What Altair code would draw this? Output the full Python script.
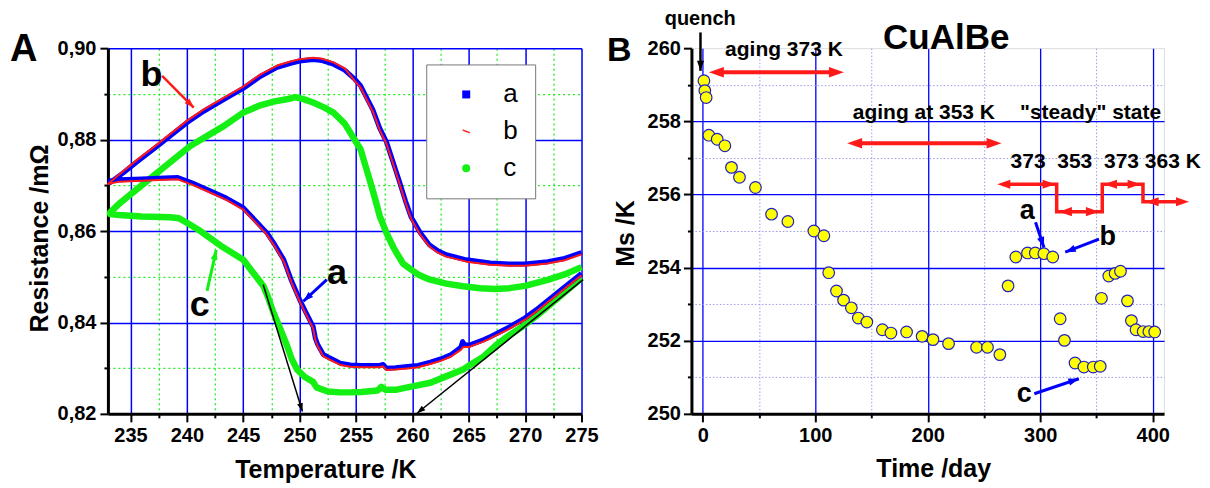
import altair as alt
import pandas as pd

FONT = "Liberation Sans"
BLUE = "#0000ff"
RED = "#ff1a1a"
GREEN = "#14f014"

# ---------------- Panel A : resistance loops ----------------
# lower branch (275 K -> 233 K) then upper branch (233 K -> 275 K)
a_T_low = [275.0, 273.0, 271.0, 270.0, 268.6, 267.0, 266.3, 265.0, 264.6, 264.45, 264.3, 263.4, 262.5, 261.6, 260.5,
           259.8, 258.5, 257.7, 257.4, 257.1, 255.5, 254.5, 253.6, 252.7, 252.1, 251.6, 251.4, 251.2, 250.6, 250.0,
           249.3, 248.6, 247.8, 247.1, 246.0, 245.0, 243.5, 241.8, 240.5, 239.2, 238.0, 236.0, 234.0, 233.2]
a_R_low = [0.8507, 0.8468, 0.8428, 0.8410, 0.8390, 0.8370, 0.8362, 0.8350, 0.8352, 0.8358, 0.8346, 0.8329, 0.8320,
           0.8313, 0.8306, 0.8304, 0.8301, 0.8300, 0.8308, 0.8306, 0.8306, 0.8307, 0.8311, 0.8322, 0.8330, 0.8352,
           0.8365, 0.8391, 0.8420, 0.8450, 0.8490, 0.8537, 0.8570, 0.8596, 0.8625, 0.8651, 0.8672, 0.8691, 0.8705,
           0.8717, 0.8716, 0.8714, 0.8712, 0.8710]
a_T_up = [233.2, 234.4, 235.5, 237.4, 240.0, 241.5, 243.3, 245.0, 246.5, 248.0, 249.2, 250.0, 251.2, 252.0, 253.0,
          254.0, 254.9, 255.4, 256.5, 257.1, 257.7, 258.3, 258.8, 259.4, 259.9, 260.7, 261.5, 262.3, 263.0, 264.8,
          266.9, 268.6, 270.0, 272.0, 273.5, 275.0]
a_R_up = [0.8706, 0.8728, 0.8750, 0.8786, 0.8837, 0.8862, 0.8888, 0.8912, 0.8938, 0.8958, 0.8967, 0.8972, 0.8975,
          0.8973, 0.8965, 0.8952, 0.8932, 0.8918, 0.8865, 0.8825, 0.8795, 0.8750, 0.8712, 0.8665, 0.8630, 0.8596,
          0.8570, 0.8556, 0.8548, 0.8537, 0.8530, 0.8528, 0.8528, 0.8533, 0.8540, 0.8553]

b_T_low = [275.0, 273.0, 271.0, 270.0, 268.6, 267.0, 266.3, 265.0, 264.6, 264.45, 264.3, 263.4, 262.5, 261.6, 260.5,
           259.8, 258.5, 257.7, 257.4, 257.1, 255.5, 254.5, 253.6, 252.7, 252.1, 251.6, 251.4, 251.2, 250.6, 250.0,
           249.3, 248.6, 247.8, 247.1, 246.0, 245.0, 243.5, 241.8, 240.5, 239.2, 238.0, 236.0, 234.0, 233.0]
b_R_low = [0.8503, 0.8464, 0.8424, 0.8406, 0.8386, 0.8366, 0.8358, 0.8346, 0.8346, 0.8345, 0.8340, 0.8325, 0.8316,
           0.8309, 0.8302, 0.8300, 0.8297, 0.8296, 0.8304, 0.8302, 0.8302, 0.8303, 0.8307, 0.8318, 0.8326, 0.8348,
           0.8361, 0.8387, 0.8416, 0.8446, 0.8486, 0.8533, 0.8566, 0.8592, 0.8621, 0.8647, 0.8668, 0.8687, 0.8701,
           0.8713, 0.8712, 0.8710, 0.8708, 0.8703]
b_T_up = [233.0, 234.4, 235.5, 237.4, 240.0, 241.5, 243.3, 245.0, 246.5, 248.0, 249.2, 250.0, 251.2, 252.0, 253.0,
          254.0, 254.9, 255.4, 256.5, 257.1, 257.7, 258.3, 258.8, 259.4, 259.9, 260.7, 261.5, 262.3, 263.0, 264.8,
          266.9, 268.6, 270.0, 272.0, 273.5, 275.0]
b_R_up = [0.8703, 0.8732, 0.8754, 0.8790, 0.8841, 0.8866, 0.8892, 0.8916, 0.8942, 0.8962, 0.8971, 0.8976, 0.8979,
          0.8977, 0.8969, 0.8956, 0.8928, 0.8914, 0.8861, 0.8821, 0.8791, 0.8746, 0.8708, 0.8661, 0.8626, 0.8592,
          0.8566, 0.8552, 0.8544, 0.8533, 0.8526, 0.8524, 0.8524, 0.8529, 0.8536, 0.8549]

c_T_low = [275.0, 273.0, 271.0, 270.0, 268.6, 267.5, 266.3, 265.0, 264.5, 263.0, 261.6, 260.0, 258.6, 257.6, 257.25,
           256.9, 255.5, 254.5, 253.6, 252.5, 251.5, 251.2, 250.5, 249.8, 249.3, 248.9, 248.3, 247.7, 247.2, 246.8,
           246.0, 245.0, 243.0, 241.2, 240.0, 239.3, 238.5, 236.0, 234.0, 233.2]
c_R_low = [0.8497, 0.8455, 0.8414, 0.8395, 0.8372, 0.8352, 0.8325, 0.8305, 0.8297, 0.8282, 0.8268, 0.8260, 0.8253,
           0.8253, 0.8259, 0.8251, 0.8248, 0.8247, 0.8247, 0.8249, 0.8258, 0.8270, 0.8280, 0.8296, 0.8320, 0.8348,
           0.8385, 0.8420, 0.8455, 0.8479, 0.8505, 0.8537, 0.8568, 0.8600, 0.8618, 0.8628, 0.8630, 0.8632, 0.8635,
           0.8637]
c_T_up = [233.2, 234.1, 235.5, 237.4, 240.3, 243.3, 245.0, 246.5, 247.7, 249.2, 249.6, 250.4, 251.2, 252.2, 253.0,
          254.0, 254.5, 255.4, 256.2, 256.7, 257.1, 257.7, 258.3, 258.6, 259.2, 259.8, 260.5, 261.5, 263.0, 264.5,
          266.0, 267.4, 268.6, 270.0, 272.0, 273.5, 275.0]
c_R_up = [0.8641, 0.8662, 0.8690, 0.8728, 0.8786, 0.8830, 0.8859, 0.8875, 0.8883, 0.8890, 0.8893, 0.8888, 0.8881,
          0.8870, 0.8859, 0.8835, 0.8815, 0.8779, 0.8713, 0.8670, 0.8633, 0.8596, 0.8565, 0.8552, 0.8528, 0.8517,
          0.8505, 0.8494, 0.8485, 0.8479, 0.8475, 0.8473, 0.8475, 0.8480, 0.8493, 0.8505, 0.8521]

A_X_TICKS = [235, 237.5, 240, 242.5, 245, 247.5, 250, 252.5, 255, 257.5, 260, 262.5, 265, 267.5, 270, 272.5, 275]
A_Y_TICKS = [0.82, 0.83, 0.84, 0.85, 0.86, 0.87, 0.88, 0.89, 0.90]
SERIES = ["a", "b", "c"]

# annotations panel A
A_txt = ["A", "b", "a", "c"]
A_txt_T = [225.53, 236.86, 253.32, 241.15]
A_txt_R = [0.8973, 0.89182, 0.84842, 0.84141]
A_txt_fs = [38, 36, 36, 36]

A_arr_T1 = [237.81, 252.41, 241.79, 246.77, 275.14]
A_arr_R1 = [0.89395, 0.84936, 0.84689, 0.84827, 0.84936]
A_arr_T2 = [240.61, 250.34, 242.61, 250.25, 260.41]
A_arr_R2 = [0.88700, 0.84463, 0.85588, 0.82052, 0.82013]
A_arr_col = [RED, BLUE, GREEN, "black", "black"]
A_arr_w = [2.5, 3, 3, 1.5, 1.5]
A_arr_ang = [135, 227.3, 12.8, 162.75, 231.3]
A_arr_hs = [90, 100, 100, 70, 70]

# ---------------- Panel B : Ms vs time ----------------
Ms_day = [1.1, 1.9, 3.1, 5.5, 12.9, 19.7, 25.6, 32.7, 46.9, 61.2, 75.7, 98.8, 107.7, 112.0, 118.9, 125.2, 132.1,
          138.3, 145.9, 159.7, 167.3, 181.2, 195.0, 204.7, 218.5, 243.4, 253.1, 264.1, 271.4, 278.3, 288.7, 295.6,
          303.2, 311.1, 317.7, 321.5, 330.9, 338.8, 347.1, 353.3, 354.4, 360.9, 366.5, 371.3, 377.5, 381.0, 385.1,
          391.4, 396.5, 401.7]
Ms_K = [259.11, 258.84, 258.65, 257.62, 257.51, 257.33, 256.74, 256.47, 256.19, 255.46, 255.26, 255.00, 254.87,
        253.86, 253.36, 253.11, 252.90, 252.62, 252.51, 252.30, 252.21, 252.24, 252.12, 252.03, 251.92, 251.82,
        251.82, 251.62, 253.50, 254.29, 254.40, 254.40, 254.38, 254.29, 252.60, 252.01, 251.39, 251.28, 251.28,
        251.30, 253.16, 253.77, 253.84, 253.90, 253.09, 252.55, 252.30, 252.25, 252.25, 252.24]

B_X_TICKS = [0, 50, 100, 150, 200, 250, 300, 350, 400]
B_Y_TICKS = [250, 251, 252, 253, 254, 255, 256, 257, 258, 259, 260]

B_txt = ["B", "CuAlBe", "quench", "aging 373 K", "aging at 353 K", '"steady" state', "373", "353", "373", "363 K",
         "a", "b", "c"]
B_txt_d = [-74.2, 216.4, -2.2, 72.2, 196.6, 344.7, 289.2, 330.7, 372.2, 417.8, 288.4, 360.0, 285.8]
B_txt_M = [259.66, 259.97, 260.63, 259.79, 258.06, 258.06, 256.71, 256.71, 256.71, 256.71, 255.33, 254.61, 250.32]
B_txt_fs = [34, 35, 20, 21, 21, 21, 21, 21, 21, 21, 27, 27, 27]

B_arr_d1 = [-1.96, 13.5, 136.4, 295.8, 352.2, 294.7]
B_arr_M1 = [260.43, 259.34, 257.40, 255.24, 254.78, 250.55]
B_arr_d2 = [-1.96, 117.5, 257.6, 303.3, 322.2, 334.3]
B_arr_M2 = [259.38, 259.34, 257.40, 254.55, 254.42, 250.96]
B_arr_col = ["black", RED, RED, BLUE, BLUE, BLUE]
B_arr_w = [2.5, 4, 4, 3, 3, 3]

B_head_d = [-1.96, 5.5, 125.5, 128.4, 265.6, 303.3, 322.2, 334.3,
            261.8, 313.6, 316.6, 352.2, 356.6, 389.2, 393.6, 432.2]
B_head_M = [259.38, 259.34, 259.34, 257.40, 257.40, 254.55, 254.42, 250.96,
            256.28, 256.28, 255.53, 255.53, 256.28, 256.28, 255.80, 255.80]
B_head_ang = [180, 270, 90, 270, 90, 161.4, 248.5, 71.4,
              270, 90, 270, 90, 270, 90, 270, 90]
B_head_col = ["black", RED, RED, RED, RED, BLUE, BLUE, BLUE,
              RED, RED, RED, RED, RED, RED, RED, RED]
B_head_s = [100, 225, 225, 225, 225, 110, 110, 110,
            170, 170, 170, 170, 170, 170, 170, 170]

stair_d = [268.0, 314.6, 314.6, 355.1, 355.1, 391.3, 391.3, 426.0]
stair_M = [256.28, 256.28, 255.53, 255.53, 256.28, 256.28, 255.80, 255.80]

HEAD = "M0,0L-0.7,2L0.7,2Z"


# ---------------- helpers ----------------
def cond(test, yes, no):
    return {"condition": {"test": test, "value": yes}, "value": no}


def axis_common(**kw):
    base = dict(
        labelFont=FONT, labelFontSize=20, labelFontWeight="bold", labelColor="black",
        titleFont=FONT, titleFontSize=25, titleFontWeight="bold", titleColor="black",
        domainColor="black", domainWidth=3, tickColor="black", tickWidth=2,
        labelFlush=False, labelOverlap=False, grid=True,
    )
    base.update(kw)
    return alt.Axis(**base)


A_MAJ_X = "datum.value % 5 === 0"
A_MAJ_Y = "round(datum.value * 100) % 2 === 0"
axA_x = axis_common(
    values=A_X_TICKS, title="Temperature /K",
    labelExpr=f"{A_MAJ_X} ? datum.label : ''",
    gridColor=cond(A_MAJ_X, BLUE, "#22ee22"), gridDash=cond(A_MAJ_X, [], [2, 3]),
    gridWidth=cond(A_MAJ_X, 1.5, 1.3), tickSize=cond(A_MAJ_X, 8, 4),
    labelPadding=4, titleX=217.6, titleY=63.6, titleBaseline="alphabetic", titleAlign="center",
)
axA_y = axis_common(
    values=A_Y_TICKS, title="Resistance /m\u03a9",
    labelExpr=f"{A_MAJ_Y} ? replace(format(datum.value, '.2f'), '.', ',') : ''",
    gridColor=cond(A_MAJ_Y, BLUE, "#22ee22"), gridDash=cond(A_MAJ_Y, [], [2, 3]),
    gridWidth=cond(A_MAJ_Y, 1.5, 1.3), tickSize=cond(A_MAJ_Y, 8, 4),
    gridOpacity=cond("datum.value < 0.825", 0, 1),
    labelPadding=4, titleX=-60, titleY=190, titleBaseline="alphabetic", titleAlign="center",
)

B_MAJ_X = "datum.value % 100 === 0"
B_MAJ_Y = "datum.value % 2 === 0"
axB_x = axis_common(
    values=B_X_TICKS, title="Time /day",
    labelExpr=f"{B_MAJ_X} ? datum.label : ''",
    gridColor=cond(B_MAJ_X, BLUE, "#9a9ae8"), gridDash=cond(B_MAJ_X, [], [1.5, 2]),
    gridWidth=cond(B_MAJ_X, 1.3, 1), tickSize=cond(B_MAJ_X, 8, 4),
    labelPadding=4, titleX=242, titleY=62.2, titleBaseline="alphabetic", titleAlign="center",
)
axB_y = axis_common(
    values=B_Y_TICKS, title="Ms /K",
    labelExpr=f"{B_MAJ_Y} ? datum.label : ''",
    gridColor=cond(B_MAJ_Y, BLUE, "#9a9ae8"), gridDash=cond(B_MAJ_Y, [], [1.5, 2]),
    gridWidth=cond(B_MAJ_Y, 1.3, 1), tickSize=cond(B_MAJ_Y, 8, 4),
    gridOpacity=cond("datum.value === 260 || datum.value === 250", 0, 1),
    labelPadding=3, titleX=-58, titleY=185, titleBaseline="alphabetic", titleAlign="center",
)

scA_x = alt.Scale(domain=[233, 275], nice=False, zero=False)
scA_y = alt.Scale(domain=[0.82, 0.90], nice=False, zero=False)
scB_x = alt.Scale(domain=[-10, 410], nice=False, zero=False)
scB_y = alt.Scale(domain=[250, 260], nice=False, zero=False)


def AX(f):
    return alt.X(f, type="quantitative", scale=scA_x, axis=axA_x)


def AY(f):
    return alt.Y(f, type="quantitative", scale=scA_y, axis=axA_y)


def BX(f):
    return alt.X(f, type="quantitative", scale=scB_x, axis=axB_x)


def BY(f):
    return alt.Y(f, type="quantitative", scale=scB_y, axis=axB_y)


def series_df(name, T_low, R_low, T_up, R_up):
    T = T_low + T_up
    R = R_low + R_up
    return pd.DataFrame({"T": T, "R": R, "series": name, "i": list(range(len(T)))})


dfa = series_df("a", a_T_low, a_R_low, a_T_up, a_R_up)
dfb = series_df("b", b_T_low, b_R_low, b_T_up, b_R_up)
dfc = series_df("c", c_T_low, c_R_low, c_T_up, c_R_up)
dfA = pd.concat([dfa, dfb, dfc], ignore_index=True)


def curve(df, color, width):
    return alt.Chart(df).mark_line(color=color, strokeWidth=width, strokeJoin="round").encode(
        x=AX("T"), y=AY("R"), order=alt.Order("i:Q"))


legend = alt.Legend(title=None, orient="none", legendX=318.6, legendY=16.3, padding=17, rowPadding=11,
                    symbolOffset=10, labelOffset=24, labelFont=FONT, labelFontSize=26, labelColor="black",
                    symbolSize=64, symbolOpacity=1, strokeColor="#777777", fillColor="white", cornerRadius=0)
legend_layer = alt.Chart(dfA).transform_filter("datum.i < 0").mark_point(filled=True, size=64, opacity=1).encode(
    x=AX("T"), y=AY("R"),
    fill=alt.Fill("series:N", scale=alt.Scale(domain=SERIES, range=[BLUE, RED, GREEN]), legend=legend),
    shape=alt.Shape("series:N", scale=alt.Scale(domain=SERIES, range=[
        "square", "M-0.9,-0.55L0.9,0.15L0.9,0.55L-0.9,-0.15Z", "circle"]), legend=legend),
)

dfA_txt = pd.DataFrame({"t": A_txt, "T": A_txt_T, "R": A_txt_R, "fs": A_txt_fs})
dfA_arr = pd.DataFrame({"T": A_arr_T1, "R": A_arr_R1, "T2": A_arr_T2, "R2": A_arr_R2,
                        "col": A_arr_col, "w": A_arr_w, "ang": A_arr_ang, "hs": A_arr_hs})

A_rules = alt.Chart(dfA_arr).mark_rule().encode(
    x=AX("T"), y=AY("R"), x2="T2:Q", y2="R2:Q",
    color=alt.Color("col:N", scale=None), strokeWidth=alt.StrokeWidth("w:Q", scale=None))
A_heads = alt.Chart(dfA_arr).mark_point(filled=True, shape=HEAD, opacity=1).encode(
    x=AX("T2"), y=AY("R2"), angle=alt.Angle("ang:Q", scale=None),
    color=alt.Color("col:N", scale=None), size=alt.Size("hs:Q", scale=None))
A_text = alt.Chart(dfA_txt).mark_text(font=FONT, fontWeight="bold", baseline="alphabetic", align="center",
                                      color="black").encode(
    x=AX("T"), y=AY("R"), text="t:N", size=alt.Size("fs:Q", scale=None))

panelA = alt.layer(
    legend_layer,
    curve(dfc, GREEN, 6.5),
    curve(dfa, BLUE, 5),
    curve(dfb, RED, 2),
    A_rules, A_heads, A_text,
).properties(width=474, height=366)

# panel B
dfB = pd.DataFrame({"d": Ms_day, "M": Ms_K})
dfB_txt = pd.DataFrame({"t": B_txt, "d": B_txt_d, "M": B_txt_M, "fs": B_txt_fs})
dfB_arr = pd.DataFrame({"d": B_arr_d1, "M": B_arr_M1, "d2": B_arr_d2, "M2": B_arr_M2,
                        "col": B_arr_col, "w": B_arr_w})
dfB_head = pd.DataFrame({"d": B_head_d, "M": B_head_M, "ang": B_head_ang, "col": B_head_col, "hs": B_head_s})
dfB_stair = pd.DataFrame({"d": stair_d, "M": stair_M, "i": list(range(len(stair_d)))})

B_points = alt.Chart(dfB).mark_circle(size=135, color="#ffff00", opacity=1, stroke="#2222bb",
                                      strokeWidth=1.2).encode(x=BX("d"), y=BY("M"))
B_rules = alt.Chart(dfB_arr).mark_rule().encode(
    x=BX("d"), y=BY("M"), x2="d2:Q", y2="M2:Q",
    color=alt.Color("col:N", scale=None), strokeWidth=alt.StrokeWidth("w:Q", scale=None))
B_stair = alt.Chart(dfB_stair).mark_line(color=RED, strokeWidth=3.5, strokeJoin="miter").encode(
    x=BX("d"), y=BY("M"), order=alt.Order("i:Q"))
B_heads = alt.Chart(dfB_head).mark_point(filled=True, shape=HEAD, opacity=1).encode(
    x=BX("d"), y=BY("M"), angle=alt.Angle("ang:Q", scale=None),
    color=alt.Color("col:N", scale=None), size=alt.Size("hs:Q", scale=None))
B_text = alt.Chart(dfB_txt).mark_text(font=FONT, fontWeight="bold", baseline="alphabetic", align="center",
                                      color="black").encode(
    x=BX("d"), y=BY("M"), text="t:N", size=alt.Size("fs:Q", scale=None))

panelB = alt.layer(B_points, B_rules, B_stair, B_heads, B_text).properties(width=473, height=366)

chart = alt.hconcat(panelA, panelB, spacing=6).resolve_legend(fill="independent", shape="independent").properties(
    padding={"left": 1, "top": 0, "right": 0, "bottom": 0}
).configure_view(stroke=None).configure(background="white")

chart.save("out.html", embed_options={"renderer": "svg", "actions": False})
